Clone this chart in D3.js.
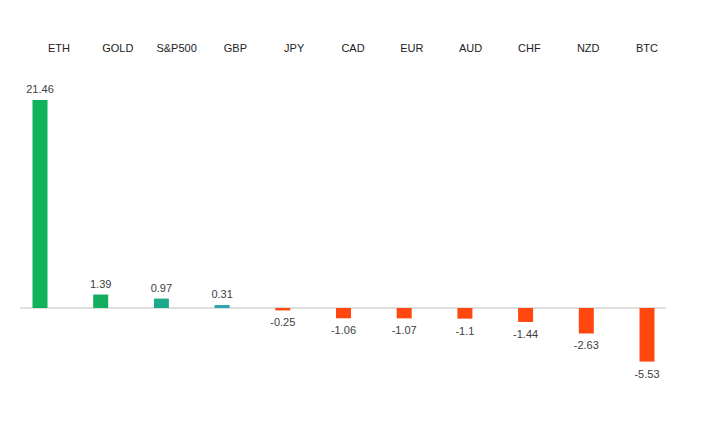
<!DOCTYPE html>
<html><head><meta charset="utf-8">
<script src="https://cdn.jsdelivr.net/npm/d3@7"></script>
<style>body{margin:0;background:#fff}</style></head>
<body><svg id="c" width="706" height="428"></svg>
<script>
const categories=["ETH","GOLD","S&P500","GBP","JPY","CAD","EUR","AUD","CHF","NZD","BTC"];
const values=[21.46,1.39,0.97,0.31,-0.25,-1.06,-1.07,-1.1,-1.44,-2.63,-5.53];
const posColors=["#0db25a","#12ae5f","#1ea98a","#2ea4b2"];
const negColor="#ff470f";
const svg=d3.select("#c");
const x=d3.scalePoint().domain(categories).range([40,647]);
const xh=d3.scalePoint().domain(categories).range([59,647]);
const y=d3.scaleLinear().domain([-5.53,21.46]).range([361.6,100]);
const bw=15;
svg.append("line").attr("x1",20).attr("x2",666).attr("y1",y(0)).attr("y2",y(0)).attr("stroke","#bfbfbf").attr("stroke-width",1);
svg.selectAll("rect").data(values).enter().append("rect")
 .attr("x",(d,i)=>x(categories[i])-bw/2).attr("width",bw)
 .attr("y",d=>y(Math.max(0,d))).attr("height",d=>Math.abs(y(d)-y(0)))
 .attr("fill",(d,i)=>d>=0?posColors[i]:negColor);
svg.selectAll("text.v").data(values).enter().append("text")
 .attr("x",(d,i)=>x(categories[i])).attr("y",d=>d>=0?y(d)-7:y(d)+16)
 .attr("text-anchor","middle").attr("font-family","Liberation Sans, Arial, sans-serif")
 .attr("font-size",11).attr("fill","#404040").text(d=>d);
svg.selectAll("text.h").data(categories).enter().append("text")
 .attr("x",d=>xh(d)).attr("y",52).attr("text-anchor","middle")
 .attr("font-family","Liberation Sans, Arial, sans-serif").attr("font-size",11).attr("fill","#222").text(d=>d);
</script></body></html>
